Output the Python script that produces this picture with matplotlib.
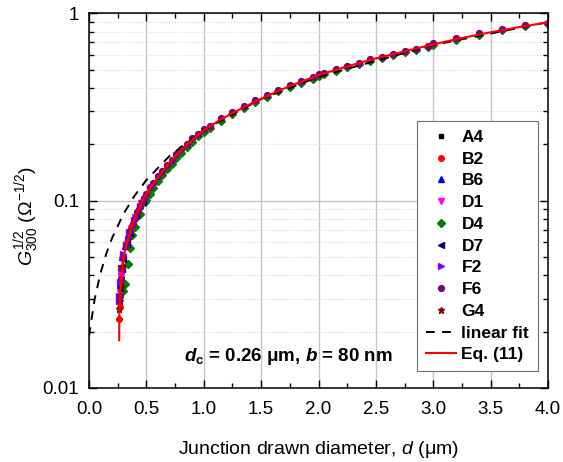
import matplotlib
matplotlib.use("Agg")
import matplotlib.pyplot as plt
from matplotlib.ticker import MultipleLocator, LogLocator, FixedLocator, FixedFormatter, NullFormatter

plt.rcParams["font.family"] = ["Liberation Sans", "DejaVu Sans"]
plt.rcParams["mathtext.fontset"] = "custom"
plt.rcParams["mathtext.rm"] = "Liberation Sans"
plt.rcParams["mathtext.it"] = "Liberation Sans:italic"
plt.rcParams["mathtext.bf"] = "Liberation Sans:bold"
plt.rcParams["mathtext.bfit"] = "Liberation Sans:italic:bold"

d_grid = [0.50, 0.53, 0.56, 0.60, 0.64, 0.68, 0.72, 0.76, 0.80, 0.85, 0.90, 0.95, 1.00,
          1.05, 1.15, 1.25, 1.35, 1.45, 1.55, 1.65, 1.75, 1.85, 1.95,
          2.00, 2.05, 2.15, 2.25, 2.35, 2.45, 2.55, 2.65, 2.75, 2.85, 2.95,
          3.00, 3.20, 3.40, 3.60, 3.80, 4.00]
g_grid = [0.109, 0.118, 0.125, 0.135, 0.145, 0.155, 0.166, 0.177, 0.188, 0.201, 0.215, 0.228, 0.241,
          0.252, 0.275, 0.297, 0.320, 0.344, 0.367, 0.391, 0.414, 0.436, 0.457,
          0.474, 0.484, 0.505, 0.526, 0.547, 0.568, 0.588, 0.609, 0.632, 0.650, 0.672,
          0.692, 0.738, 0.785, 0.826, 0.868, 0.895]
g_grid_d4 = [0.101, 0.109, 0.117, 0.127, 0.137, 0.148, 0.158, 0.169, 0.180, 0.193, 0.207, 0.221, 0.234,
             0.245, 0.268, 0.290, 0.313, 0.337, 0.360, 0.384, 0.406, 0.428, 0.449,
             0.465, 0.475, 0.496, 0.517, 0.538, 0.558, 0.578, 0.598, 0.620, 0.638, 0.660,
             0.680, 0.725, 0.771, 0.812, 0.853, 0.880]

# small-diameter points per junction series
a4_d = [0.30, 0.35, 0.40, 0.45]
a4_g = [0.050, 0.066, 0.080, 0.095]
b2_d = [0.264, 0.266, 0.27, 0.28, 0.30, 0.33, 0.37, 0.42, 0.48]
b2_g = [0.0235, 0.027, 0.031, 0.039, 0.050, 0.060, 0.072, 0.086, 0.102]
b6_d = [0.265, 0.27, 0.28, 0.29, 0.31, 0.34, 0.38, 0.43]
b6_g = [0.030, 0.036, 0.042, 0.050, 0.057, 0.066, 0.078, 0.092]
d1_d = [0.266, 0.275, 0.29, 0.32, 0.35, 0.40, 0.45]
d1_g = [0.032, 0.040, 0.048, 0.058, 0.068, 0.082, 0.097]
d4_d = [0.30, 0.31, 0.343, 0.357, 0.372, 0.40, 0.444, 0.488]
d4_g = [0.033, 0.036, 0.046, 0.056, 0.066, 0.072, 0.085, 0.098]
d7_d = [0.27, 0.285, 0.30, 0.33, 0.36, 0.41, 0.47]
d7_g = [0.034, 0.043, 0.049, 0.059, 0.067, 0.083, 0.099]
f2_d = [0.262, 0.265, 0.27, 0.28, 0.30, 0.32, 0.35, 0.39, 0.44]
f2_g = [0.029, 0.031, 0.037, 0.044, 0.052, 0.058, 0.067, 0.079, 0.094]
f6_d = [0.27, 0.28, 0.29, 0.30, 0.32, 0.34, 0.36, 0.38, 0.40, 0.42, 0.44, 0.46, 0.48]
f6_g = [0.031, 0.038, 0.044, 0.050, 0.057, 0.063, 0.069, 0.075, 0.081, 0.087, 0.093, 0.098, 0.104]
g4_d = [0.264, 0.266, 0.275, 0.29]
g4_g = [0.0263, 0.029, 0.035, 0.045]

# linear fit (dashed) and Eq. (11) curve
lin_d = [0.0, 0.05, 0.10, 0.15, 0.20, 0.30, 0.40, 0.50, 0.70, 1.0, 1.5, 2.0, 3.0, 4.0]
lin_g = [0.019, 0.030, 0.041, 0.052, 0.063, 0.085, 0.107, 0.129, 0.173, 0.239, 0.349, 0.459,
         0.679, 0.899]
eq_d = [0.263, 0.264, 0.266, 0.27, 0.285, 0.305, 0.337, 0.372, 0.415, 0.465, 0.53, 0.60, 0.70,
        0.80, 0.90, 1.00, 1.15, 1.35, 1.55, 1.75, 2.0, 2.25, 2.5, 2.75, 3.0, 3.25, 3.5, 3.75, 4.0]
eq_g = [0.018, 0.0235, 0.027, 0.030, 0.0405, 0.052, 0.061, 0.072, 0.085, 0.100, 0.117, 0.133, 0.160,
        0.186, 0.212, 0.238, 0.272, 0.316, 0.362, 0.410, 0.468, 0.522, 0.576, 0.628, 0.684, 0.740,
        0.794, 0.846, 0.897]

series = [
    ("A4", "s", "#000000", 3.0, a4_d + d_grid, a4_g + g_grid),
    ("B2", "o", "#ff0000", 4.0, b2_d, b2_g),
    ("B6", "^", "#0000ff", 4.2, b6_d, b6_g),
    ("D1", "v", "#ff00ff", 4.2, d1_d, d1_g),
    ("D4", "D", "#008000", 3.6, d4_d + d_grid, d4_g + g_grid_d4),
    ("D7", "<", "#000080", 4.2, d7_d, d7_g),
    ("F2", ">", "#8000ff", 4.2, f2_d, f2_g),
    ("F6", "o", "#800080", 4.2, f6_d + d_grid, f6_g + g_grid),
    ("G4", "*", "#800000", 4.8, g4_d, g4_g),
]

fig = plt.figure(figsize=(5.63, 4.62), dpi=100)
ax = fig.add_axes([0.1581, 0.1602, 0.8153, 0.8106])

for name, mk, col, ms, xs, ys in series:
    ax.plot(xs, ys, ls="none", marker=mk, ms=ms, color=col, mec=col, label=name)

ax.plot(lin_d, lin_g, ls=(0, (4.5, 3.8)), color="black", lw=1.4, label="linear fit")
ax.plot(eq_d, eq_g, color="#ff0000", lw=1.5, label="Eq. (11)")

ax.set_yscale("log")
ax.set_xlim(0, 4)
ax.set_ylim(0.01, 1)
ax.xaxis.set_major_locator(MultipleLocator(0.5))
ax.xaxis.set_minor_locator(MultipleLocator(0.25))
ax.set_xticklabels([f"{v:.1f}" for v in ax.get_xticks()])
ax.yaxis.set_major_locator(FixedLocator([0.01, 0.1, 1]))
ax.yaxis.set_major_formatter(FixedFormatter(["0.01", "0.1", "1"]))
ax.yaxis.set_minor_locator(LogLocator(base=10, subs=range(2, 10)))
ax.yaxis.set_minor_formatter(NullFormatter())

ax.tick_params(which="both", direction="in", top=True, right=True, width=1.0,
               labelsize=13.5, pad=7)
ax.tick_params(axis="x", which="both", pad=9.5)
ax.tick_params(which="major", length=6)
ax.tick_params(which="minor", length=3.5)
for sp in ax.spines.values():
    sp.set_linewidth(1.1)

ax.set_axisbelow(True)
ax.grid(True, which="major", color="#c4c4c4", lw=1.0, ls="-")
ax.grid(True, which="minor", axis="y", color="#d4d4d4", lw=0.8, ls=":")

ax.set_xlabel("Junction drawn diameter, $d$ (μm)", fontsize=14, labelpad=15)
ax.set_ylabel(r"$G_{300}^{1/2}$ ($\Omega^{-1/2}$)", fontsize=14)
ax.yaxis.set_label_coords(-0.105, 0.46)

ax.text(0.435, 0.083, r"$\mathbfit{d}_\mathbf{c}$ = 0.26 μm, $\mathbfit{b}$ = 80 nm",
        transform=ax.transAxes, ha="center", va="center", fontsize=13.5, fontweight="bold")

leg = ax.legend(loc="lower right", bbox_to_anchor=(0.978, 0.045), borderaxespad=0,
                numpoints=1, fancybox=False, edgecolor="#707070", framealpha=1,
                prop={"weight": "bold", "size": 12.5}, handlelength=1.75, handletextpad=0.3,
                labelspacing=0.38, borderpad=0.5)
leg.get_frame().set_linewidth(0.8)

fig.savefig("out.png", dpi=100)
